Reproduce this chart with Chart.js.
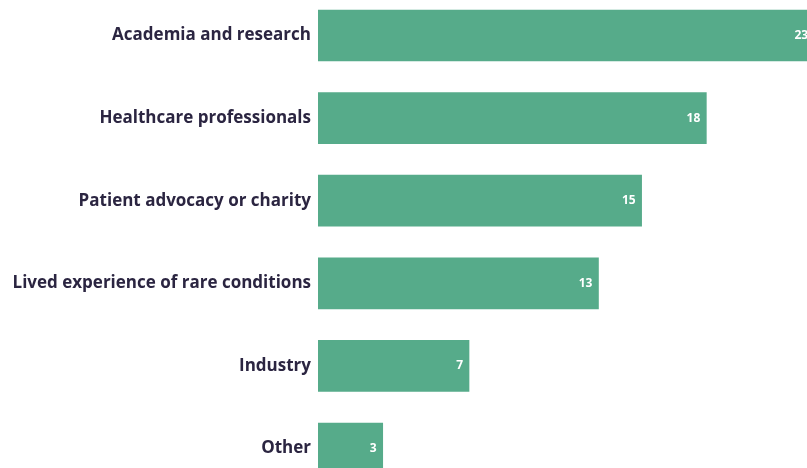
<!DOCTYPE html>
<html>
<head>
<meta charset="utf-8">
<script src="https://cdn.jsdelivr.net/npm/chart.js@4"></script>
<style>
  html, body { margin: 0; padding: 0; background: #fff; overflow: hidden; }
  #sectorChart { position: absolute; left: 0; top: -23px; }
</style>
</head>
<body>
<canvas id="sectorChart" width="825" height="530"></canvas>
<script>
const sectors = [
  'Academia and research',
  'Healthcare professionals',
  'Patient advocacy or charity',
  'Lived experience of rare conditions',
  'Industry',
  'Other'
];
const respondents = [23, 18, 15, 13, 7, 3];

// writes each value in white just inside the end of its bar
const barValues = {
  id: 'barValues',
  afterDatasetsDraw(chart) {
    const ctx = chart.ctx;
    const meta = chart.getDatasetMeta(0);
    ctx.save();
    ctx.fillStyle = '#ffffff';
    ctx.font = 'bold 12px "Open Sans"';
    ctx.textAlign = 'right';
    ctx.textBaseline = 'middle';
    meta.data.forEach(function(bar, i) {
      ctx.fillText(respondents[i], bar.x - 6, bar.y);
    });
    ctx.restore();
  }
};

document.addEventListener('DOMContentLoaded', function() {
  const ctx = document.getElementById('sectorChart').getContext('2d');
  new Chart(ctx, {
    type: 'bar',
    data: {
      labels: sectors,
      datasets: [{
        data: respondents,
        backgroundColor: '#56ab8a',
        borderWidth: 0,
        barThickness: 51
      }]
    },
    options: {
      indexAxis: 'y',
      responsive: false,
      animation: false,
      layout: { padding: 0 },
      scales: {
        x: {
          display: false,
          min: 0,
          max: 23.5
        },
        y: {
          afterFit(scale) { scale.width = 318; },
          grid: { display: false, drawTicks: false },
          border: { display: false },
          ticks: {
            padding: 7,
            color: '#2b2541',
            font: { family: '"Open Sans"', size: 17, weight: 'bold' }
          }
        }
      },
      plugins: {
        legend: { display: false },
        tooltip: { enabled: false }
      }
    },
    plugins: [barValues]
  });
});
</script>
</body>
</html>
